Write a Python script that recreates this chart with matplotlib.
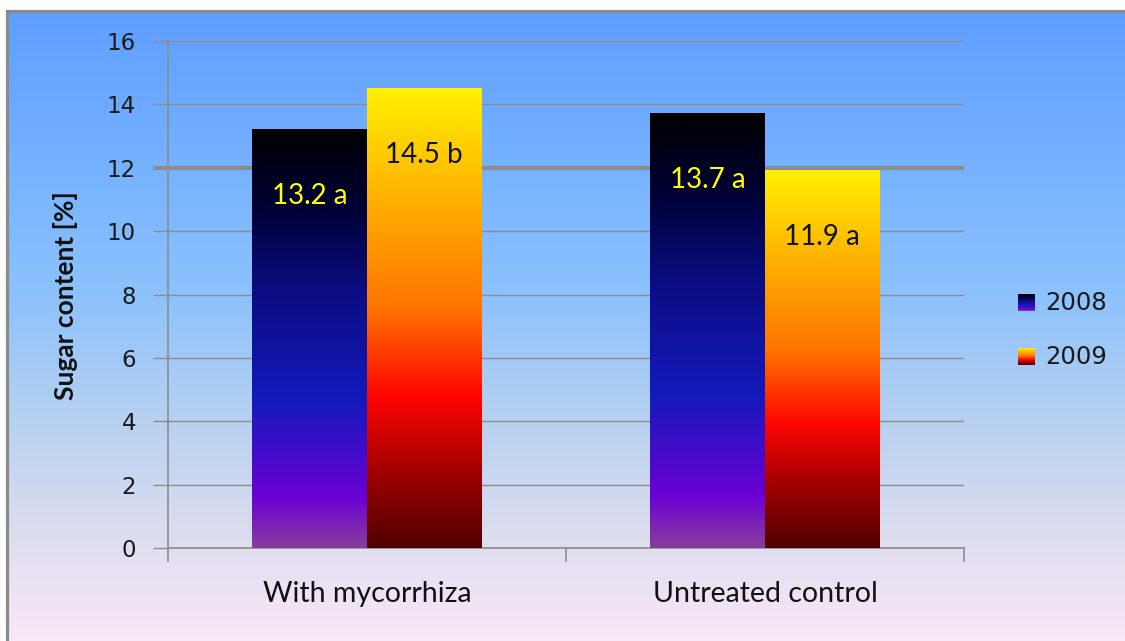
import matplotlib

matplotlib.use("Agg")
import matplotlib.pyplot as plt
import numpy as np
from matplotlib.colors import LinearSegmentedColormap
from matplotlib.patches import Rectangle

# chart data
categories = ["With mycorrhiza", "Untreated control"]
series = ["2008", "2009"]
values = {
    "2008": [13.2, 13.7],
    "2009": [14.5, 11.9],
}
letters = {
    "2008": ["a", "a"],
    "2009": ["b", "a"],
}
yticks = [0, 2, 4, 6, 8, 10, 12, 14, 16]

W, H = 1125, 641
GRID = "#8c8c8c"

# colour ramps, bottom of bar -> top of bar
ramps = {
    "2008": LinearSegmentedColormap.from_list("c2008", [
        (0.00, (0.53, 0.24, 0.62)),
        (0.12, (0.42, 0.00, 0.83)),
        (0.35, (0.08, 0.10, 0.74)),
        (0.62, (0.04, 0.05, 0.50)),
        (0.82, (0.00, 0.00, 0.20)),
        (1.00, (0.00, 0.00, 0.00)),
    ]),
    "2009": LinearSegmentedColormap.from_list("c2009", [
        (0.00, (0.32, 0.00, 0.00)),
        (0.15, (0.60, 0.00, 0.00)),
        (0.33, (1.00, 0.02, 0.00)),
        (0.52, (1.00, 0.45, 0.00)),
        (0.72, (1.00, 0.65, 0.00)),
        (1.00, (1.00, 0.94, 0.00)),
    ]),
}
label_colors = {"2008": "#ffff00", "2009": "#111111"}

bg = LinearSegmentedColormap.from_list("bg", [
    (0.00, (0.98, 0.91, 0.97)),
    (0.15, (0.88, 0.87, 0.94)),
    (0.35, (0.72, 0.82, 0.94)),
    (0.55, (0.55, 0.76, 0.99)),
    (0.78, (0.45, 0.69, 1.00)),
    (1.00, (0.37, 0.62, 1.00)),
])

fig = plt.figure(figsize=(W / 100, H / 100), dpi=100)
fig.patch.set_facecolor("white")

# background gradient inside the frame
bg_ax = fig.add_axes([8 / W, 0, 1, (H - 12) / H])
bg_ax.imshow(np.linspace(0, 1, 256).reshape(-1, 1), cmap=bg, aspect="auto",
             origin="lower", extent=(0, 1, 0, 1))
bg_ax.set_axis_off()
fig.patches.append(Rectangle((7 / W, -0.1), 1.2, (H - 11) / H + 0.1,
                             transform=fig.transFigure, fill=False,
                             edgecolor="#8a8a8a", linewidth=2.3, zorder=5))

ax = fig.add_axes([168 / W, (H - 548) / H, (964 - 168) / W, 507 / H])
ax.patch.set_alpha(0)

n = len(categories)
bar_w = 0.288
ramp = np.linspace(0, 1, 256).reshape(-1, 1)
for i, cat in enumerate(categories):
    center = i + 0.5
    for j, s in enumerate(series):
        v = values[s][i]
        x0 = center - bar_w + j * bar_w
        ax.imshow(ramp, cmap=ramps[s], aspect="auto", origin="lower",
                  extent=(x0, x0 + bar_w, 0, v), zorder=3)
        ax.text(x0 + bar_w / 2, v - 2.1, f"{v:.1f} {letters[s][i]}",
                ha="center", va="center", fontsize=20, family="Lato",
                color=label_colors[s], zorder=4)

ax.set_xlim(0, n)
ax.set_ylim(0, 16)

ax.set_yticks(yticks)
ax.set_yticklabels([str(t) for t in yticks], fontsize=16.5, color="#1a1a1a")
ax.tick_params(axis="y", direction="out", length=11, width=1, color=GRID, pad=12)
ax.yaxis.grid(True, color=GRID, linewidth=1)
ax.set_axisbelow(True)
ax.get_ygridlines()[6].set_linewidth(3)
ax.yaxis.get_major_ticks()[6].tick1line.set_markeredgewidth(3)

ax.set_xticks(range(n + 1))
ax.set_xticklabels([""] * (n + 1))
ax.tick_params(axis="x", which="major", direction="out", length=10, width=1.2, color=GRID)
ax.set_xticks([i + 0.5 for i in range(n)], minor=True)
ax.set_xticklabels(categories, minor=True, fontsize=20.5, family="Lato", color="#111111")
ax.tick_params(axis="x", which="minor", length=0, pad=24)

for side in ("top", "right"):
    ax.spines[side].set_visible(False)
for side in ("left", "bottom"):
    ax.spines[side].set_color(GRID)
    ax.spines[side].set_linewidth(1.2)
ax.spines["left"].set_zorder(1)

fig.text(66 / W, 1 - 296 / H, "Sugar content [%]", rotation=90, ha="center",
         va="center", fontsize=19, family="Lato", fontweight="bold", color="#111111")

# legend with gradient swatches
for k, s in enumerate(series):
    top = 294 + k * 54
    sw = fig.add_axes([1018 / W, 1 - (top + 17) / H, 17 / W, 17 / H])
    sw.imshow(ramp, cmap=ramps[s], aspect="auto", origin="lower", extent=(0, 1, 0, 1))
    sw.set_axis_off()
    fig.text(1045 / W, 1 - (top + 9) / H, s, ha="left", va="center",
             fontsize=17.5, color="#1a1a1a")

fig.savefig("out.png", dpi=100, facecolor=fig.get_facecolor())
